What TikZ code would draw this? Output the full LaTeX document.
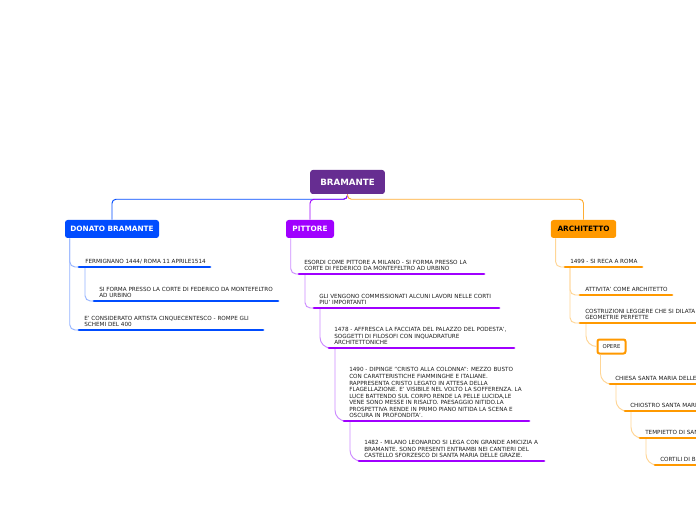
\documentclass[tikz,border=0pt]{standalone}
\usepackage{fontspec}
\setmainfont{DejaVu Sans}
\usetikzlibrary{positioning}
\definecolor{rootcol}{RGB}{102,45,145}
\definecolor{bluecol}{RGB}{0,76,255}
\definecolor{bluelight}{RGB}{150,180,255}
\definecolor{purpcol}{RGB}{160,0,255}
\definecolor{purplight}{RGB}{205,140,255}
\definecolor{orcol}{RGB}{255,153,0}
\definecolor{orlight}{RGB}{255,214,150}
\definecolor{txtcol}{RGB}{30,30,30}
\tikzset{
  topic/.style={rounded corners=2pt, font=\fontsize{5.5}{6}\selectfont\bfseries, minimum height=13.5pt, inner sep=0pt},
  leaf/.style={font=\fontsize{4.25}{4.9}\selectfont, text=txtcol, align=left, inner sep=0pt},
  uline/.style={line width=2.2pt, line cap=round},
  conn/.style={line width=0.7pt, rounded corners=4pt},
}
\begin{document}
\begin{tikzpicture}[x=0.75pt,y=-0.75pt]
\clip (0,0) rectangle (696,520);
\fill[white] (0,0) rectangle (696,520);

\node[topic, fill=rootcol, text=white, minimum width=56pt, minimum height=18pt, font=\fontsize{6.5}{7}\selectfont\bfseries] (root) at (347.5,182) {BRAMANTE};
\node[topic, fill=bluecol, text=white, minimum width=70.5pt] (donato) at (112,229) {DONATO BRAMANTE};
\node[topic, fill=purpcol, text=white, minimum width=36pt] (pittore) at (310,229) {PITTORE};
\node[topic, fill=orcol, text=black, minimum width=49pt] (archi) at (583.5,229) {ARCHITETTO};

\draw[conn, bluecol, rounded corners=3pt] (root.south) -- ++(0,5) -| (donato.north);
\draw[conn, purpcol, rounded corners=3pt] (root.south) -- ++(0,5) -| (pittore.north);
\draw[conn, orcol!80, rounded corners=3pt] (root.south) -- ++(0,5) -| (archi.north);

% donato bramante
\coordinate (l1) at (79,267);
\coordinate (l2) at (94,301);
\coordinate (l3) at (79,330);
\draw[conn, bluelight] ([xshift=3.75pt]donato.south west) |- (l1);
\draw[conn, bluelight] ([xshift=4.5pt]l1) |- (l2);
\draw[conn, bluelight] ([xshift=3.75pt]donato.south west) |- (l3);
\draw[uline, bluecol] (l1) -- (210,267);
\draw[uline, bluecol] (l2) -- (278,301);
\draw[uline, bluecol] (l3) -- (263,330);
\node[leaf, above right=2.2pt and 4.5pt of l1] (t1) {FERMIGNANO 1444/ ROMA 11 APRILE1514};
\node[leaf, above right=2.2pt and 3.75pt of l2] (t2) {SI FORMA PRESSO LA CORTE DI FEDERICO DA MONTEFELTRO\\AD URBINO};
\node[leaf, above right=2.2pt and 3.75pt of l3] (t3) {E' CONSIDERATO ARTISTA CINQUECENTESCO - ROMPE GLI\\SCHEMI DEL 400};

% pittore
\coordinate (p1) at (299,274);
\coordinate (p2) at (314,308);
\coordinate (p3) at (329,348);
\coordinate (p4) at (344,421);
\coordinate (p5) at (359,461);
\draw[conn, purplight] ([xshift=3.75pt]pittore.south west) |- (p1);
\draw[conn, purplight] ([xshift=4.5pt]p1) |- (p2);
\draw[conn, purplight, rounded corners=8pt] ([xshift=4.5pt]p2) |- (p3);
\draw[conn, purplight, rounded corners=8pt] ([xshift=4.5pt]p3) |- (p4);
\draw[conn, purplight, rounded corners=8pt] ([xshift=4.5pt]p4) |- (p5);
\draw[uline, purpcol] (p1) -- (484,274);
\draw[uline, purpcol] (p2) -- (499,308);
\draw[uline, purpcol] (p3) -- (514,348);
\draw[uline, purpcol] (p4) -- (529,421);
\draw[uline, purpcol] (p5) -- (544,461);
\node[leaf, above right=2.2pt and 3.75pt of p1] (q1) {ESORDI COME PITTORE A MILANO - SI FORMA PRESSO LA\\CORTE DI FEDERICO DA MONTEFELTRO AD URBINO};
\node[leaf, above right=2.2pt and 3.75pt of p2] (q2) {GLI VENGONO COMMISSIONATI ALCUNI LAVORI NELLE CORTI\\PIU' IMPORTANTI};
\node[leaf, above right=2.2pt and 3.75pt of p3] (q3) {1478 - AFFRESCA LA FACCIATA DEL PALAZZO DEL PODESTA',\\SOGGETTI DI FILOSOFI CON INQUADRATURE\\ARCHITETTONICHE};
\node[leaf, above right=2.2pt and 3.75pt of p4] (q4) {1490 - DIPINGE "CRISTO ALLA COLONNA": MEZZO BUSTO\\CON CARATTERISTICHE FIAMMINGHE E ITALIANE.\\RAPPRESENTA CRISTO LEGATO IN ATTESA DELLA\\FLAGELLAZIONE. E' VISIBILE NEL VOLTO LA SOFFERENZA. LA\\LUCE BATTENDO SUL CORPO RENDE LA PELLE LUCIDA,LE\\VENE SONO MESSE IN RISALTO. PAESAGGIO NITIDO.LA\\PROSPETTIVA RENDE IN PRIMO PIANO NITIDA LA SCENA E\\OSCURA IN PROFONDITA'.};
\node[leaf, above right=2.2pt and 3.75pt of p5] (q5) {1482 - MILANO LEONARDO SI LEGA CON GRANDE AMICIZIA A\\BRAMANTE. SONO PRESENTI ENTRAMBI NEI CANTIERI DEL\\CASTELLO SFORZESCO DI SANTA MARIA DELLE GRAZIE.};

% architetto
\coordinate (a1) at (565,267);
\coordinate (a2) at (580,295);
\coordinate (a3) at (580,323);
\coordinate (o1) at (610,384);
\coordinate (o2) at (625,411);
\coordinate (o3) at (640,438);
\coordinate (o4) at (655,465);
\node[draw=orcol, line width=1.5pt, fill=white, rounded corners=1.5pt, font=\fontsize{4}{5}\selectfont, text=txtcol, minimum width=21pt, minimum height=10.5pt, inner sep=0pt] (opere) at (611.5,346.5) {OPERE};
\draw[conn, orlight] ([xshift=3.75pt]archi.south west) |- (a1);
\draw[conn, orlight] ([xshift=3.75pt]a1) |- (a2);
\draw[conn, orlight] ([xshift=3.75pt]a1) |- (a3);
\draw[conn, orlight, rounded corners=8pt] ([xshift=4.5pt]a3) |- (opere.west);
\draw[conn, orlight, rounded corners=8pt] ([xshift=3pt]opere.south west) |- (o1);
\draw[conn, orlight, rounded corners=8pt] ([xshift=4.5pt]o1) |- (o2);
\draw[conn, orlight, rounded corners=8pt] ([xshift=4.5pt]o2) |- (o3);
\draw[conn, orlight, rounded corners=8pt] ([xshift=4.5pt]o3) |- (o4);
\draw[uline, orcol] (a1) -- (642,267);
\draw[uline, orcol] (a2) -- (672,295);
\draw[uline, orcol] (a3) -- (710,323);
\draw[uline, orcol] (o1) -- (710,384);
\draw[uline, orcol] (o2) -- (710,411);
\draw[uline, orcol] (o3) -- (710,438);
\draw[uline, orcol] (o4) -- (710,465);
\node[leaf, above right=2.2pt and 3.75pt of a1] (b1) {1499 - SI RECA A ROMA};
\node[leaf, above right=2.2pt and 3.75pt of a2] (b2) {ATTIVITA' COME ARCHITETTO};
\node[leaf, above right=2.2pt and 3.75pt of a3] (b3) {COSTRUZIONI LEGGERE CHE SI DILATA\\GEOMETRIE PERFETTE};
\node[leaf, above right=2.2pt and 3.75pt of o1] (c1) {CHIESA SANTA MARIA DELLE};
\node[leaf, above right=2.2pt and 3.75pt of o2] (c2) {CHIOSTRO SANTA MARI};
\node[leaf, above right=2.2pt and 3.75pt of o3] (c3) {TEMPIETTO DI SAN};
\node[leaf, above right=2.2pt and 3.75pt of o4] (c4) {CORTILI DI B};
\end{tikzpicture}
\end{document}
